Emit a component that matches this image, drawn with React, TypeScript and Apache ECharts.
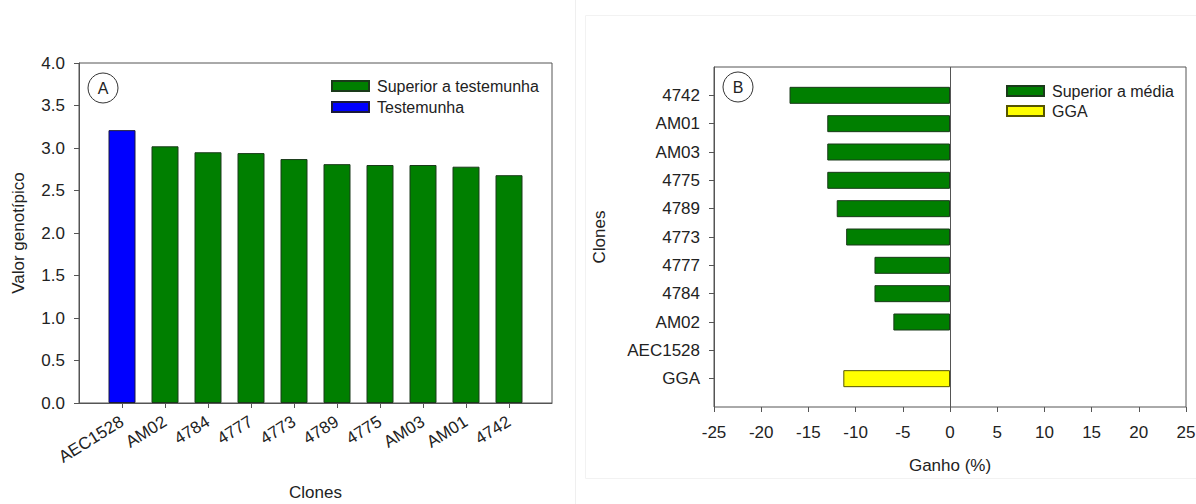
import React, { useEffect, useRef } from "react";
import * as echarts from "echarts";

const clonesA = ["AEC1528", "AM02", "4784", "4777", "4773", "4789", "4775", "AM03", "AM01", "4742"];
const testemunhaA = [3.21, null, null, null, null, null, null, null, null, null];
const superiorA = [null, 3.02, 2.95, 2.94, 2.87, 2.81, 2.8, 2.8, 2.78, 2.68];

const clonesB = ["GGA", "AEC1528", "AM02", "4784", "4777", "4773", "4789", "4775", "AM03", "AM01", "4742"];
const superiorB = [null, 0, -6, -8, -8, -11, -12, -13, -13, -13, -17];
const ggaB = [-11.3, null, null, null, null, null, null, null, null, null, null];

const FONT = "Liberation Sans, Arial, sans-serif";
const GREEN = "#007f00";
const BLUE = "#0000ff";
const YELLOW = "#ffff00";
const AXIS = "#555555";
const TEXT = "#222222";
const TICK_FS = 17;
const NAME_FS = 17;
const LEG_FS = 16;

export default function App() {
  const ref = useRef<HTMLDivElement>(null);
  useEffect(() => {
    document.body.style.margin = "0";
    const chart = echarts.init(ref.current!, null, { renderer: "svg" });
    const catA = ["", ...clonesA, ""];
    const catB = ["", ...clonesB, ""];
    const pad = (arr: any[]) => [null, ...arr, null];
    const superiorBItems = superiorB.map((v) =>
      v === 0 ? { value: 0, itemStyle: { borderWidth: 0 } } : v
    );
    const option: any = {
      animation: false,
      textStyle: { fontFamily: FONT },
      grid: [
        { left: 79, top: 63, width: 473, height: 340, show: true, borderColor: AXIS, borderWidth: 1, backgroundColor: "transparent", containLabel: false, outerBoundsMode: "none" },
        { left: 714, top: 67, width: 472, height: 340, show: true, borderColor: AXIS, borderWidth: 1, backgroundColor: "transparent", containLabel: false, outerBoundsMode: "none" },
      ],
      xAxis: [
        {
          type: "category",
          gridIndex: 0,
          data: catA,
          boundaryGap: false,
          axisLine: { lineStyle: { color: AXIS } },
          axisTick: { length: 5, lineStyle: { color: AXIS }, interval: (i: number) => i > 0 && i < catA.length - 1 },
          axisLabel: { rotate: 32, fontSize: TICK_FS, color: TEXT, fontFamily: FONT, interval: 0, margin: 17 },
          name: "Clones",
          nameLocation: "middle",
          nameGap: 81,
          nameTextStyle: { fontSize: NAME_FS, color: TEXT, fontFamily: FONT },
          splitLine: { show: false },
        },
        {
          type: "value",
          gridIndex: 1,
          min: -25,
          max: 25,
          interval: 5,
          axisLine: { onZero: false, lineStyle: { color: AXIS } },
          axisTick: { show: true, length: 5, lineStyle: { color: AXIS } },
          axisLabel: { fontSize: TICK_FS, color: TEXT, fontFamily: FONT, margin: 17 },
          name: "Ganho (%)",
          nameLocation: "middle",
          nameGap: 50,
          nameTextStyle: { fontSize: NAME_FS, color: TEXT, fontFamily: FONT },
          splitLine: { show: false },
        },
      ],
      yAxis: [
        {
          type: "value",
          gridIndex: 0,
          min: 0,
          max: 4,
          interval: 0.5,
          axisLine: { show: true, lineStyle: { color: AXIS } },
          axisTick: { show: true, length: 5, lineStyle: { color: AXIS } },
          axisLabel: { fontSize: TICK_FS, color: TEXT, fontFamily: FONT, formatter: (v: number) => v.toFixed(1), margin: 14 },
          name: "Valor genotípico",
          nameLocation: "middle",
          nameGap: 52,
          nameTextStyle: { fontSize: NAME_FS, color: TEXT, fontFamily: FONT },
          splitLine: { show: false },
        },
        {
          type: "category",
          gridIndex: 1,
          data: catB,
          boundaryGap: false,
          axisLine: { show: true, onZero: false, lineStyle: { color: AXIS } },
          axisTick: { length: 5, lineStyle: { color: AXIS }, interval: (i: number) => i > 0 && i < catB.length - 1 },
          axisLabel: { fontSize: TICK_FS, color: TEXT, fontFamily: FONT, interval: 0, margin: 14 },
          name: "Clones",
          nameLocation: "middle",
          nameGap: 106,
          nameTextStyle: { fontSize: NAME_FS, color: TEXT, fontFamily: FONT },
          splitLine: { show: false },
        },
      ],
      legend: [
        {
          orient: "vertical",
          left: 331,
          top: 78,
          padding: 0,
          icon: "rect",
          itemWidth: 37,
          itemHeight: 10,
          itemGap: 5,
          data: ["Superior a testemunha", "Testemunha"],
          textStyle: { fontSize: LEG_FS, lineHeight: 16, color: TEXT, fontFamily: FONT, padding: [0, 0, 0, 3] },
          selectedMode: false,
        },
        {
          orient: "vertical",
          left: 1006,
          top: 83,
          padding: 0,
          icon: "rect",
          itemWidth: 37,
          itemHeight: 10,
          itemGap: 4,
          data: ["Superior a média", "GGA"],
          textStyle: { fontSize: LEG_FS, lineHeight: 16, color: TEXT, fontFamily: FONT, padding: [0, 0, 0, 3] },
          selectedMode: false,
        },
      ],
      series: [
        {
          name: "Superior a testemunha",
          type: "bar",
          xAxisIndex: 0,
          yAxisIndex: 0,
          data: pad(superiorA),
          barWidth: 27,
          barGap: "-100%",
          itemStyle: { color: GREEN, borderColor: "#1a3a1a", borderWidth: 1 },
        },
        {
          name: "Testemunha",
          type: "bar",
          xAxisIndex: 0,
          yAxisIndex: 0,
          data: pad(testemunhaA),
          barWidth: 27,
          barGap: "-100%",
          itemStyle: { color: BLUE, borderColor: "#1a1a3a", borderWidth: 1 },
        },
        {
          name: "Superior a média",
          type: "bar",
          xAxisIndex: 1,
          yAxisIndex: 1,
          data: pad(superiorBItems),
          barWidth: 17,
          barGap: "-100%",
          itemStyle: { color: GREEN, borderColor: "#1a3a1a", borderWidth: 1 },
          markLine: {
            silent: true,
            symbol: "none",
            label: { show: false },
            lineStyle: { color: AXIS, type: "solid", width: 1 },
            data: [{ xAxis: 0 }],
          },
        },
        {
          name: "GGA",
          type: "bar",
          xAxisIndex: 1,
          yAxisIndex: 1,
          data: pad(ggaB),
          barWidth: 17,
          barGap: "-100%",
          itemStyle: { color: YELLOW, borderColor: "#555500", borderWidth: 1 },
        },
      ],
      graphic: [
        { type: "line", shape: { x1: 575.5, y1: 0, x2: 575.5, y2: 504 }, style: { stroke: "#efefef", lineWidth: 1 }, silent: true },
        { type: "rect", shape: { x: 585.5, y: 15.5, width: 700, height: 463 }, style: { fill: "none", stroke: "#f2f2f2", lineWidth: 1 }, silent: true },
        { type: "circle", shape: { cx: 103, cy: 88, r: 15 }, style: { fill: "none", stroke: "#333", lineWidth: 1 } },
        { type: "text", x: 103, y: 88, style: { text: "A", fill: TEXT, fontSize: 16, fontFamily: FONT, align: "center", verticalAlign: "middle" } },
        { type: "circle", shape: { cx: 738, cy: 87, r: 15 }, style: { fill: "none", stroke: "#333", lineWidth: 1 } },
        { type: "text", x: 738, y: 87, style: { text: "B", fill: TEXT, fontSize: 16, fontFamily: FONT, align: "center", verticalAlign: "middle" } },
      ],
    };
    chart.setOption(option);
    return () => chart.dispose();
  }, []);
  return <div ref={ref} style={{ width: 1196, height: 504 }} />;
}
